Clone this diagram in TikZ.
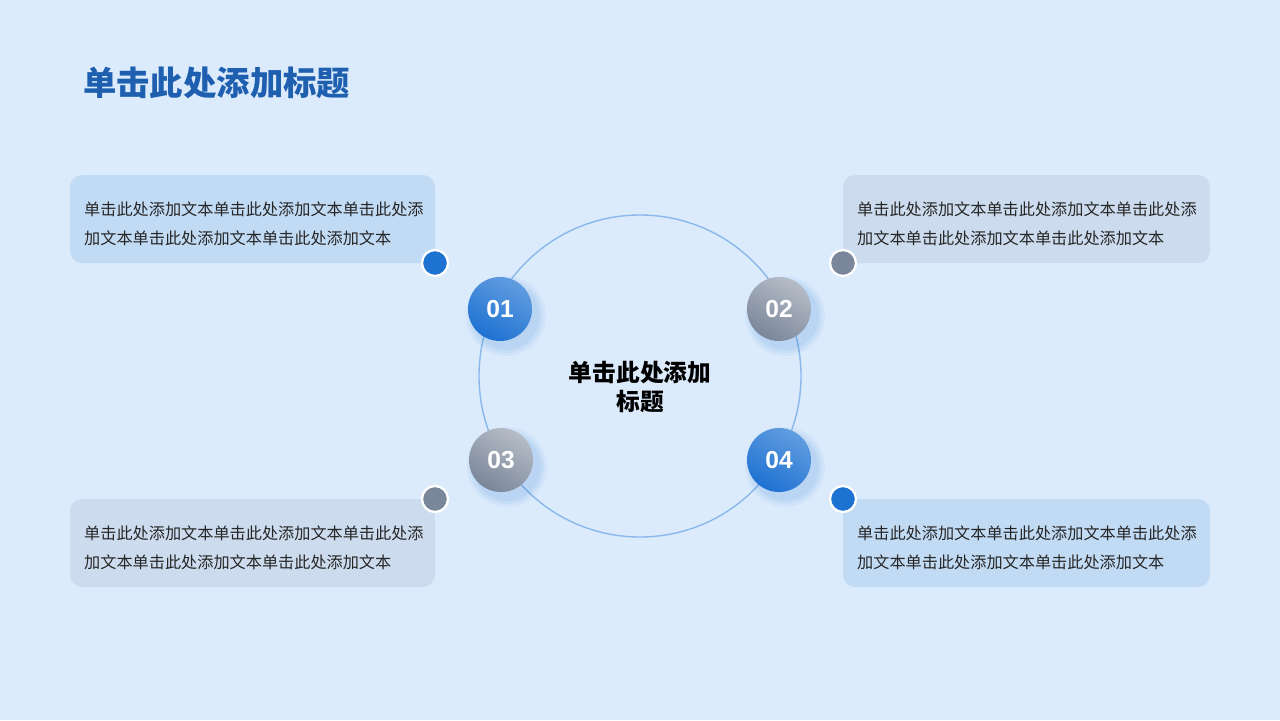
\documentclass[tikz,border=0pt]{standalone}
\usepackage{fontspec}
\setmainfont{Liberation Sans}
\newfontfamily\cjk{Noto Sans CJK SC}
\definecolor{bg}{HTML}{DBEBFC}
\definecolor{ttl}{HTML}{1F5FAF}
\definecolor{bluebox}{HTML}{C2DBF5}
\definecolor{greybox}{HTML}{CCDCEE}
\definecolor{bluedot}{HTML}{1E72D2}
\definecolor{greydot}{HTML}{7A8699}
\definecolor{ring}{HTML}{8AB8EA}
\tikzset{
 box/.style={rounded corners=12*0.02cm, inner sep=0pt},
 btxt/.style={anchor=north west, align=left, font=\cjk\fontsize{9.2}{16.5}\selectfont, text=black!85},
 dot/.style={circle, draw=white, line width=1.3pt, minimum size=26*0.02cm, inner sep=0pt},
 num/.style={circle, minimum size=64*0.02cm, inner sep=0pt, text=white, font=\bfseries\fontsize{14}{14}\selectfont},
 bnum/.style={num, shading=axis, top color=bluedot!70!white, bottom color=bluedot, shading angle=-30},
 gnum/.style={num, shading=axis, top color=greydot!55!white, bottom color=greydot, shading angle=-30},
}
\begin{document}
\begin{tikzpicture}[x=0.02cm,y=-0.02cm]
\fill[bg] (0,0) rectangle (1280,720);
\useasboundingbox (0,0) rectangle (1280,720);
\node[anchor=west, text=ttl, font=\cjk\bfseries\fontsize{19}{19}\selectfont] (title) at (77,83) {单击此处添加标题};
% ring
\node[circle, draw=ring, line width=0.8pt, minimum size=322*0.02cm, inner sep=0pt] (ring) at (640,376) {};
\node[align=center, font=\cjk\bfseries\fontsize{13.5}{16.5}\selectfont] (center) at (640,387) {单击此处添加\\标题};
% boxes
\fill[bluebox, box] (70,175) rectangle (435,263);
\fill[greybox, box] (843,175) rectangle (1210,263);
\fill[greybox, box] (70,499) rectangle (435,587);
\fill[bluebox, box] (843,499) rectangle (1210,587);
\node[btxt] (t1) at (78,196) {单击此处添加文本单击此处添加文本单击此处添\\加文本单击此处添加文本单击此处添加文本};
\node[btxt] (t2) at (851,196) {单击此处添加文本单击此处添加文本单击此处添\\加文本单击此处添加文本单击此处添加文本};
\node[btxt] (t3) at (78,520) {单击此处添加文本单击此处添加文本单击此处添\\加文本单击此处添加文本单击此处添加文本};
\node[btxt] (t4) at (851,520) {单击此处添加文本单击此处添加文本单击此处添\\加文本单击此处添加文本单击此处添加文本};
% dots
\node[dot, fill=bluedot] (d1) at (435,263) {};
\node[dot, fill=greydot] (d2) at (843,263) {};
\node[dot, fill=greydot] (d3) at (435,499) {};
\node[dot, fill=bluedot] (d4) at (843,499) {};
% shadows
\foreach \p in {(506,316),(785,316),(507,467),(785,467)}{
  \foreach \r/\o in {40/0.05,37/0.06,34/0.07}{\fill[bluedot, opacity=\o] \p circle (\r);}
}
\node[bnum] (n1) at (500,309) {01};
\node[gnum] (n2) at (779,309) {02};
\node[gnum] (n3) at (501,460) {03};
\node[bnum] (n4) at (779,460) {04};
\end{tikzpicture}
\end{document}
